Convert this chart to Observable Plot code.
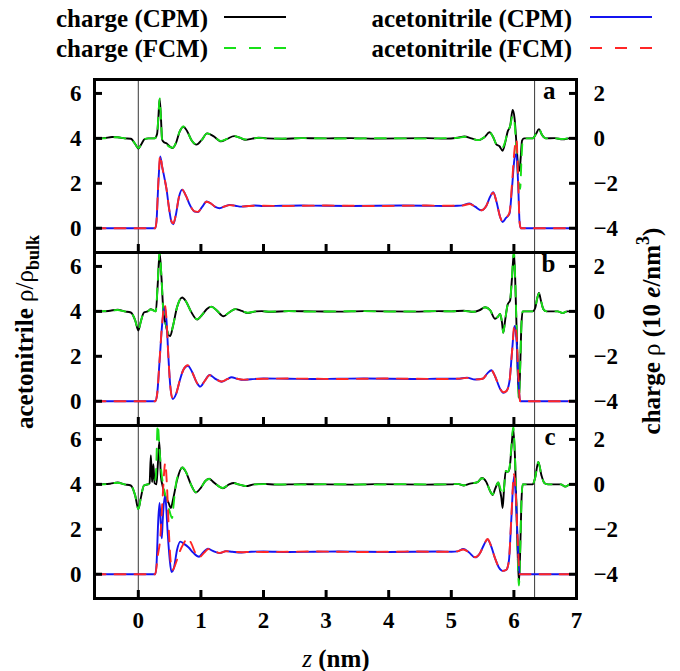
<!DOCTYPE html>
<html><head><meta charset="utf-8">
<script src="https://cdn.jsdelivr.net/npm/d3@7"></script>
<script src="https://cdn.jsdelivr.net/npm/@observablehq/plot@0.6"></script>
<style>
body{margin:0;background:#fff;}
#wrap{width:680px;height:671px;position:relative;background:#fff;}
#wrap svg{display:block;}
</style></head><body><div id="wrap"></div>
<script>
// ---- categories / ticks ----
const panels = ["a", "b", "c"];
const xTicks = [0, 1, 2, 3, 4, 5, 6, 7];
const acnTicks = [0, 2, 4, 6];
const chargeTicks = [-4, -2, 0, 2];
const chargeOffset = 4;          // charge axis is drawn 4 units above the acetonitrile axis
const electrodeZ = [0, 6.33];

// ---- panel a ----
const a_chg_cpm = [[-0.7,0],[-0.55,0.01],[-0.42,0.06],[-0.33,0.05],[-0.22,0],[-0.12,-0.02],[-0.05,-0.25],[0,-0.45],[0.05,-0.25],[0.1,-0.03],[0.16,0],[0.26,0],[0.3,0.2],[0.32,0.9],[0.34,1.75],[0.36,1.0],[0.38,-0.05],[0.41,-0.17],[0.45,-0.22],[0.5,-0.35],[0.55,-0.43],[0.6,-0.22],[0.66,0.3],[0.72,0.52],[0.78,0.32],[0.85,-0.08],[0.93,-0.28],[1.01,-0.08],[1.1,0.22],[1.2,0.1],[1.32,-0.13],[1.42,-0.02],[1.53,0.1],[1.62,0.03],[1.71,-0.06],[1.82,-0.01],[1.92,0.03],[2.05,0],[2.3,-0.02],[2.6,0.01],[3.0,0],[3.4,0.01],[3.8,-0.01],[4.2,0],[4.6,0.01],[4.9,-0.01],[5.1,0.03],[5.21,0.08],[5.32,0],[5.43,-0.08],[5.53,0.05],[5.61,0.27],[5.67,0.05],[5.72,-0.27],[5.77,-0.35],[5.82,-0.55],[5.86,-0.2],[5.9,0.3],[5.94,0.55],[5.98,1.26],[6.01,0.9],[6.04,-0.2],[6.07,-1.3],[6.09,-1.44],[6.11,-0.8],[6.13,-0.1],[6.16,0],[6.3,0],[6.35,0.18],[6.4,0.41],[6.45,0.15],[6.51,0],[6.65,0.01],[6.78,-0.04],[6.9,0.01],[7.0,0]];
const a_chg_fcm = [[-0.7,0],[-0.55,0],[-0.42,0.05],[-0.33,0.05],[-0.22,0],[-0.12,-0.03],[-0.05,-0.25],[0,-0.43],[0.05,-0.25],[0.1,-0.03],[0.16,0],[0.26,0],[0.3,0.2],[0.32,0.95],[0.34,1.78],[0.36,1.0],[0.38,-0.05],[0.41,-0.2],[0.45,-0.28],[0.5,-0.38],[0.55,-0.42],[0.6,-0.2],[0.66,0.3],[0.72,0.53],[0.78,0.32],[0.85,-0.08],[0.93,-0.27],[1.01,-0.08],[1.1,0.22],[1.2,0.1],[1.32,-0.12],[1.42,-0.02],[1.53,0.1],[1.62,0.03],[1.71,-0.05],[1.82,0],[1.92,0.02],[2.05,0],[2.3,-0.01],[2.6,0.01],[3.0,0],[3.4,-0.01],[3.8,0.01],[4.2,0],[4.6,-0.01],[4.9,0.01],[5.1,0.02],[5.21,0.07],[5.32,0],[5.43,-0.08],[5.53,0.06],[5.61,0.28],[5.67,0.05],[5.72,-0.25],[5.77,-0.3],[5.82,-0.4],[5.86,-0.15],[5.9,0.3],[5.94,0.55],[5.98,1.0],[6.01,0.7],[6.04,-0.5],[6.07,-1.8],[6.1,-2.25],[6.12,-1.0],[6.14,-0.1],[6.16,0],[6.3,0],[6.35,0.18],[6.4,0.42],[6.45,0.15],[6.51,0],[6.65,0],[6.78,-0.03],[6.9,0.01],[7.0,0]];
const a_acn_cpm = [[-0.7,0],[0.27,0],[0.29,0.3],[0.32,2.0],[0.35,3.2],[0.38,2.75],[0.42,2.2],[0.45,1.75],[0.49,0.9],[0.53,0.28],[0.56,0.18],[0.6,0.6],[0.65,1.4],[0.7,1.72],[0.76,1.45],[0.83,1.0],[0.9,0.74],[0.95,0.72],[1.02,0.95],[1.09,1.19],[1.16,1.1],[1.23,0.95],[1.3,0.89],[1.38,0.97],[1.46,1.04],[1.55,1.0],[1.65,0.96],[1.76,0.99],[1.86,1.01],[2.0,0.99],[2.3,1.0],[2.6,1.01],[3.0,1.0],[3.4,0.99],[3.8,1.0],[4.2,1.01],[4.6,1.0],[4.9,0.99],[5.1,1.0],[5.18,1.02],[5.29,1.1],[5.38,0.96],[5.48,0.8],[5.56,1.0],[5.62,1.4],[5.67,1.6],[5.72,1.2],[5.78,0.5],[5.82,0.28],[5.87,0.45],[5.93,0.65],[5.97,1.8],[6.01,3.1],[6.04,3.3],[6.07,1.8],[6.09,0.3],[6.11,0],[7.0,0]];
const a_acn_fcm = [[-0.7,0],[0.27,0],[0.29,0.3],[0.32,2.05],[0.35,3.25],[0.38,2.75],[0.42,2.2],[0.45,1.75],[0.49,0.9],[0.53,0.3],[0.56,0.22],[0.6,0.62],[0.65,1.4],[0.7,1.72],[0.76,1.45],[0.83,1.0],[0.9,0.75],[0.95,0.73],[1.02,0.95],[1.09,1.18],[1.16,1.1],[1.23,0.95],[1.3,0.9],[1.38,0.97],[1.46,1.03],[1.55,1.0],[1.65,0.97],[1.76,0.99],[1.86,1.0],[2.0,1.0],[2.3,0.99],[2.6,1.0],[3.0,1.01],[3.4,1.0],[3.8,0.99],[4.2,1.0],[4.6,1.01],[4.9,1.0],[5.1,1.0],[5.18,1.01],[5.29,1.08],[5.38,0.96],[5.48,0.8],[5.56,1.0],[5.62,1.4],[5.67,1.58],[5.72,1.2],[5.78,0.5],[5.82,0.3],[5.87,0.45],[5.93,0.7],[5.97,2.0],[6.01,3.5],[6.04,3.95],[6.07,2.0],[6.09,0.3],[6.11,0],[7.0,0]];

// ---- panel b ----
const b_chg_cpm = [[-0.7,0],[-0.55,0],[-0.45,0.03],[-0.33,0.07],[-0.22,0],[-0.12,-0.05],[-0.05,-0.4],[0,-0.85],[0.04,-0.45],[0.09,-0.05],[0.15,0],[0.2,0.1],[0.24,0.05],[0.28,0],[0.31,1.2],[0.34,2.62],[0.37,1.5],[0.4,0],[0.44,-0.6],[0.48,-1.05],[0.51,-1.1],[0.55,-0.7],[0.62,0.2],[0.7,0.62],[0.76,0.45],[0.84,0],[0.94,-0.36],[1.02,-0.15],[1.1,0.12],[1.17,0.21],[1.25,0.05],[1.36,-0.22],[1.45,-0.05],[1.55,0.1],[1.65,0.02],[1.75,-0.07],[1.88,0],[1.97,0.01],[2.1,-0.02],[2.4,0.01],[2.8,0],[3.2,-0.01],[3.6,0.01],[4.0,0],[4.4,-0.01],[4.8,0.01],[5.0,0],[5.2,0.03],[5.35,-0.02],[5.45,0.05],[5.54,0.18],[5.62,0.05],[5.7,-0.33],[5.74,-0.25],[5.78,-0.12],[5.81,-0.5],[5.83,-0.95],[5.86,-0.4],[5.9,0.3],[5.94,0.5],[5.97,1.5],[6.0,2.62],[6.02,1.5],[6.05,-1.5],[6.08,-3.85],[6.1,-2.5],[6.12,-0.6],[6.14,0],[6.3,0],[6.34,0.15],[6.37,0.55],[6.4,0.82],[6.43,0.5],[6.47,0.1],[6.52,0],[6.7,0],[6.78,-0.08],[6.85,0],[7.0,0]];
const b_chg_fcm = [[-0.7,0],[-0.55,0.01],[-0.45,0.03],[-0.33,0.06],[-0.22,0],[-0.12,-0.05],[-0.05,-0.4],[0,-0.85],[0.04,-0.45],[0.09,-0.05],[0.15,0],[0.2,0.08],[0.24,0.04],[0.28,0],[0.31,1.3],[0.34,2.66],[0.37,1.5],[0.4,0],[0.44,-0.6],[0.48,-1.0],[0.51,-1.08],[0.55,-0.7],[0.62,0.2],[0.7,0.63],[0.76,0.45],[0.84,0],[0.94,-0.35],[1.02,-0.15],[1.1,0.12],[1.17,0.2],[1.25,0.05],[1.36,-0.21],[1.45,-0.05],[1.55,0.1],[1.65,0.02],[1.75,-0.06],[1.88,0],[1.97,0],[2.1,-0.01],[2.4,0.01],[2.8,-0.01],[3.2,0],[3.6,0.01],[4.0,-0.01],[4.4,0],[4.8,0.01],[5.0,0],[5.2,0.02],[5.35,-0.02],[5.45,0.05],[5.54,0.18],[5.62,0.05],[5.7,-0.32],[5.74,-0.25],[5.78,-0.12],[5.81,-0.5],[5.83,-0.95],[5.86,-0.4],[5.9,0.3],[5.94,0.5],[5.97,1.6],[6.0,2.66],[6.02,1.5],[6.05,-1.5],[6.08,-3.9],[6.1,-2.5],[6.12,-0.6],[6.14,0],[6.3,0],[6.34,0.15],[6.37,0.55],[6.4,0.8],[6.43,0.5],[6.47,0.1],[6.52,0],[6.7,0],[6.78,-0.07],[6.85,0],[7.0,0]];
const b_acn_cpm = [[-0.7,0],[0.27,0],[0.3,0.3],[0.34,1.8],[0.38,3.4],[0.42,4.2],[0.45,3.6],[0.48,2.0],[0.51,0.7],[0.55,0.1],[0.6,0.3],[0.66,0.9],[0.72,1.4],[0.79,1.58],[0.86,1.3],[0.93,0.85],[0.99,0.65],[1.06,0.9],[1.14,1.17],[1.22,1.02],[1.33,0.87],[1.42,0.98],[1.49,1.07],[1.58,1.0],[1.68,0.95],[1.8,0.98],[2.0,1.01],[2.4,1.0],[2.8,0.99],[3.2,1.0],[3.6,1.01],[4.0,1.0],[4.4,0.99],[4.8,1.0],[5.1,1.0],[5.25,1.05],[5.38,0.97],[5.5,1.0],[5.58,1.25],[5.64,1.38],[5.7,1.1],[5.78,0.55],[5.83,0.38],[5.88,0.45],[5.93,0.9],[5.97,2.2],[6.01,3.35],[6.04,2.8],[6.07,1.0],[6.1,0],[7.0,0]];
const b_acn_fcm = [[-0.7,0],[0.27,0],[0.3,0.3],[0.34,1.85],[0.38,3.45],[0.42,4.3],[0.45,3.65],[0.48,2.0],[0.51,0.7],[0.55,0.12],[0.6,0.3],[0.66,0.9],[0.72,1.4],[0.79,1.6],[0.86,1.3],[0.93,0.85],[0.99,0.66],[1.06,0.9],[1.14,1.16],[1.22,1.02],[1.33,0.88],[1.42,0.98],[1.49,1.06],[1.58,1.0],[1.68,0.96],[1.8,0.98],[2.0,1.0],[2.4,1.01],[2.8,1.0],[3.2,0.99],[3.6,1.0],[4.0,1.01],[4.4,1.0],[4.8,0.99],[5.1,1.0],[5.25,1.04],[5.38,0.97],[5.5,1.0],[5.58,1.25],[5.64,1.38],[5.7,1.1],[5.78,0.55],[5.83,0.4],[5.88,0.45],[5.93,0.9],[5.97,2.2],[6.01,3.4],[6.04,3.0],[6.07,1.2],[6.1,0],[7.0,0]];

// ---- panel c ----
const c_chg_cpm = [[-0.7,0],[-0.55,0.01],[-0.45,0.03],[-0.33,0.08],[-0.22,0],[-0.12,-0.05],[-0.05,-0.5],[0,-1.1],[0.04,-0.6],[0.09,-0.05],[0.15,0],[0.18,0.05],[0.2,1.3],[0.22,0.1],[0.24,0.9],[0.26,0.05],[0.29,0],[0.31,0.8],[0.335,1.9],[0.36,0.4],[0.39,-0.1],[0.44,-0.6],[0.48,-0.8],[0.52,-1.05],[0.56,-0.6],[0.62,0.2],[0.7,0.75],[0.76,0.55],[0.84,0],[0.92,-0.36],[1.0,-0.15],[1.07,0.15],[1.13,0.25],[1.2,0.1],[1.35,-0.17],[1.45,0],[1.53,0.06],[1.6,0],[1.72,-0.08],[1.85,0],[2.0,0.02],[2.2,-0.01],[2.6,0.01],[3.0,0],[3.4,-0.01],[3.8,0.01],[4.2,0],[4.6,-0.01],[5.0,0],[5.1,0.02],[5.2,-0.05],[5.3,0.03],[5.42,0.1],[5.49,0.28],[5.56,0.1],[5.62,-0.3],[5.66,-0.47],[5.7,-0.2],[5.75,0.08],[5.78,-0.3],[5.8,-0.6],[5.82,-1.05],[5.84,-0.3],[5.87,0.6],[5.9,0.55],[5.93,0.7],[5.96,1.6],[5.99,2.5],[6.02,1.0],[6.05,-2.0],[6.08,-4.4],[6.1,-3.0],[6.12,-0.8],[6.14,0],[6.3,0],[6.34,0.3],[6.39,1.0],[6.44,0.4],[6.49,0.05],[6.55,0],[6.75,0],[6.82,-0.1],[6.9,0],[7.0,0]];
const c_chg_fcm = [[-0.7,0],[-0.55,0],[-0.45,0.03],[-0.33,0.07],[-0.22,0],[-0.12,-0.05],[-0.05,-0.5],[0,-1.1],[0.04,-0.6],[0.09,-0.05],[0.15,0],[0.22,0.03],[0.26,0.1],[0.28,0.4],[0.31,2.65],[0.34,1.5],[0.37,0.5],[0.41,-0.2],[0.46,-0.8],[0.5,-1.2],[0.54,-1.5],[0.56,-1.0],[0.6,0],[0.66,0.55],[0.71,0.75],[0.77,0.5],[0.84,0],[0.92,-0.35],[1.0,-0.15],[1.07,0.15],[1.13,0.24],[1.2,0.1],[1.35,-0.16],[1.45,0],[1.53,0.05],[1.6,0],[1.72,-0.07],[1.85,0],[2.0,0.01],[2.2,0],[2.6,-0.01],[3.0,0.01],[3.4,0],[3.8,-0.01],[4.2,0.01],[4.6,0],[5.0,0],[5.1,0.02],[5.2,-0.04],[5.3,0.03],[5.42,0.1],[5.49,0.27],[5.56,0.1],[5.62,-0.3],[5.66,-0.45],[5.7,-0.2],[5.75,0.08],[5.78,-0.15],[5.8,-0.35],[5.82,-0.47],[5.84,-0.2],[5.87,0.6],[5.9,0.55],[5.93,0.75],[5.96,1.7],[5.99,2.55],[6.02,1.0],[6.05,-2.0],[6.08,-4.5],[6.1,-3.0],[6.12,-0.8],[6.14,0],[6.3,0],[6.34,0.3],[6.39,1.0],[6.44,0.4],[6.49,0.05],[6.55,0],[6.75,0],[6.82,-0.1],[6.9,0],[7.0,0]];
const c_acn_cpm = [[-0.7,0],[0.27,0],[0.29,0.4],[0.32,2.5],[0.34,3.17],[0.36,2.2],[0.375,1.6],[0.39,2.4],[0.42,3.45],[0.44,3.2],[0.47,1.8],[0.5,0.7],[0.53,0.1],[0.57,0.3],[0.62,1.1],[0.67,1.45],[0.73,1.35],[0.8,1.2],[0.88,0.95],[0.97,0.78],[1.04,0.98],[1.11,1.14],[1.18,1.05],[1.3,0.94],[1.4,1.03],[1.5,1.0],[1.65,0.97],[1.8,1.0],[2.0,1.01],[2.4,0.99],[2.8,1.0],[3.2,1.01],[3.6,1.0],[4.0,0.99],[4.4,1.0],[4.8,1.01],[5.0,1.0],[5.1,1.02],[5.19,1.12],[5.28,0.98],[5.38,0.75],[5.46,0.95],[5.52,1.3],[5.58,1.55],[5.63,1.3],[5.7,0.7],[5.76,0.3],[5.82,0.15],[5.88,0.2],[5.92,0.6],[5.96,2.5],[6.0,4.35],[6.03,3.5],[6.06,1.5],[6.09,0],[7.0,0]];
const c_acn_fcm = [[-0.7,0],[0.27,0],[0.31,0.8],[0.35,1.6],[0.39,3.5],[0.43,4.95],[0.46,3.8],[0.49,1.8],[0.52,0.5],[0.55,0.2],[0.6,0.5],[0.66,1.0],[0.72,1.35],[0.79,1.6],[0.85,1.35],[0.91,0.95],[0.97,0.75],[1.05,0.95],[1.12,1.12],[1.2,1.06],[1.3,0.95],[1.4,1.02],[1.5,1.0],[1.65,0.98],[1.8,1.0],[2.0,0.99],[2.4,1.0],[2.8,1.01],[3.2,1.0],[3.6,0.99],[4.0,1.0],[4.4,1.01],[4.8,1.0],[5.0,1.0],[5.1,1.02],[5.19,1.1],[5.28,0.98],[5.38,0.76],[5.46,0.95],[5.52,1.3],[5.58,1.57],[5.63,1.3],[5.7,0.7],[5.76,0.3],[5.82,0.15],[5.88,0.2],[5.92,0.6],[5.96,2.6],[6.0,4.45],[6.03,3.6],[6.06,1.6],[6.09,0],[7.0,0]];

// ---- series table ----
const seriesList = [
  {panel:"a", qty:"charge", method:"CPM", pts:a_chg_cpm},
  {panel:"a", qty:"charge", method:"FCM", pts:a_chg_fcm},
  {panel:"a", qty:"acn", method:"CPM", pts:a_acn_cpm},
  {panel:"a", qty:"acn", method:"FCM", pts:a_acn_fcm},
  {panel:"b", qty:"charge", method:"CPM", pts:b_chg_cpm},
  {panel:"b", qty:"charge", method:"FCM", pts:b_chg_fcm},
  {panel:"b", qty:"acn", method:"CPM", pts:b_acn_cpm},
  {panel:"b", qty:"acn", method:"FCM", pts:b_acn_fcm},
  {panel:"c", qty:"charge", method:"CPM", pts:c_chg_cpm},
  {panel:"c", qty:"charge", method:"FCM", pts:c_chg_fcm},
  {panel:"c", qty:"acn", method:"CPM", pts:c_acn_cpm},
  {panel:"c", qty:"acn", method:"FCM", pts:c_acn_fcm}
];
const rows = seriesList.flatMap(s => s.pts.map(([z, v]) => ({
  panel: s.panel, qty: s.qty, method: s.method, z,
  y: s.qty === "charge" ? v + chargeOffset : v
})));

const styles = [
  {qty:"charge", method:"CPM", label:"charge (CPM)", stroke:"#000000", dash:null},
  {qty:"charge", method:"FCM", label:"charge (FCM)", stroke:"#18e018", dash:"11,9"},
  {qty:"acn", method:"CPM", label:"acetonitrile (CPM)", stroke:"#1414f0", dash:null},
  {qty:"acn", method:"FCM", label:"acetonitrile (FCM)", stroke:"#ff2626", dash:"11,9"}
];

const FONT = '"Liberation Serif", "Times New Roman", serif';
const minusFmt = v => (v < 0 ? "\u2212" : "") + Math.abs(v);

// ---- legend (above the plot) ----
const wrap = d3.select("#wrap");
const leg = wrap.append("svg").attr("width", 680).attr("height", 70)
  .style("font-family", FONT).style("font-weight", "bold").style("font-size", "25px");
const legPos = [
  {textEnd:208, x1:224, x2:286, base:27, ly:17},
  {textEnd:208, x1:224, x2:286, base:57, ly:48},
  {textEnd:572, x1:590, x2:652, base:27, ly:17},
  {textEnd:572, x1:590, x2:652, base:57, ly:48}
];
styles.forEach((s, i) => {
  const p = legPos[i];
  leg.append("text").attr("x", p.textEnd).attr("y", p.base).attr("text-anchor", "end").attr("fill", "#000").text(s.label);
  leg.append("line").attr("x1", p.x1).attr("x2", p.x2).attr("y1", p.ly).attr("y2", p.ly)
    .attr("stroke", s.stroke).attr("stroke-width", 2).attr("stroke-dasharray", s.dash ? "12,13" : null);
});

// ---- plot ----
const chart = Plot.plot({
  width: 680,
  height: 601,
  marginTop: 9,
  marginBottom: 73,
  marginLeft: 94,
  marginRight: 104,
  x: {domain: [-0.7, 7]},
  y: {domain: [-1.08, 6.62]},
  fy: {domain: panels, padding: 0, axis: null},
  style: {fontFamily: FONT, fontWeight: "bold", fontSize: "23px", color: "#000", background: "#fff", overflow: "visible"},
  marks: [
    Plot.ruleX(electrodeZ, {stroke: "#4a4a4a", strokeWidth: 1.1}),
    ...styles.map(s => Plot.line(rows.filter(r => r.qty === s.qty && r.method === s.method), {
      x: "z", y: "y", fy: "panel", z: "panel",
      stroke: s.stroke, strokeWidth: 1.9, strokeDasharray: s.dash, curve: "monotone-x"
    })),
    Plot.axisX({ticks: xTicks, tickSize: -8, strokeWidth: 3, fill: "none", label: null, facetAnchor: null}),
    Plot.axisX({ticks: xTicks, tickSize: 0, tickPadding: 13, label: null, tickFormat: d => String(d)}),
    Plot.axisY({ticks: acnTicks, anchor: "left", tickSize: -8, strokeWidth: 3, tickPadding: 21, label: null, tickFormat: d => String(d)}),
    Plot.axisY({ticks: chargeTicks.map(c => c + chargeOffset), anchor: "right", tickSize: -8, strokeWidth: 3, tickPadding: 25, label: null, tickFormat: d => minusFmt(d - chargeOffset)}),
    Plot.text(panels, {fy: d => d, text: d => d, frameAnchor: "top-right", dx: -21, dy: 2, lineAnchor: "top", textAnchor: "end", fontSize: 25, fontWeight: "bold"}),
    Plot.frame({stroke: "#000", strokeWidth: 3})
  ]
});
wrap.node().appendChild(chart);

// ---- axis titles with rich text ----
const svg = d3.select(chart);
const t1 = svg.append("text").attr("transform", "translate(33,262) rotate(-90)")
  .attr("text-anchor", "middle").attr("font-size", 25).attr("font-weight", "bold").attr("fill", "#000");
t1.append("tspan").text("acetonitrile ");
t1.append("tspan").attr("font-weight", "normal").text("ρ/ρ");
t1.append("tspan").attr("font-size", 18).attr("dy", 6).text("bulk");

const t2 = svg.append("text").attr("transform", "translate(660,261) rotate(-90)")
  .attr("text-anchor", "middle").attr("font-size", 25).attr("font-weight", "bold").attr("fill", "#000");
t2.append("tspan").text("charge ");
t2.append("tspan").attr("font-weight", "normal").text("ρ");
t2.append("tspan").text(" (10 ");
t2.append("tspan").attr("font-style", "italic").text("e");
t2.append("tspan").text("/nm");
t2.append("tspan").attr("font-size", 18).attr("dy", -11).text("3");
t2.append("tspan").attr("dy", 11).text(")");

const t3 = svg.append("text").attr("x", 336).attr("y", 597)
  .attr("text-anchor", "middle").attr("font-size", 25).attr("font-weight", "bold").attr("fill", "#000");
t3.append("tspan").attr("font-style", "italic").attr("font-weight", "normal").text("z");
t3.append("tspan").text(" (nm)");
</script></body></html>
